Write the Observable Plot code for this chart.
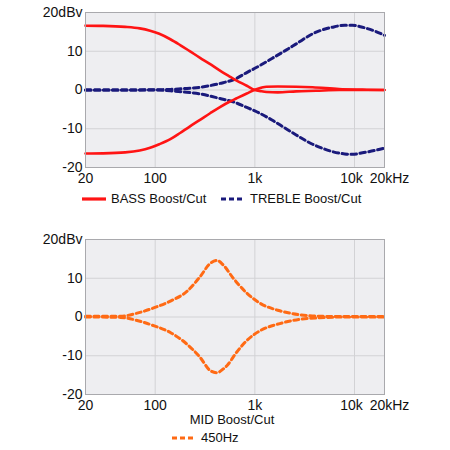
<!DOCTYPE html>
<html><head><meta charset="utf-8">
<script src="https://cdn.jsdelivr.net/npm/d3@7"></script>
<script src="https://cdn.jsdelivr.net/npm/@observablehq/plot@0.6"></script>
<style>
body{margin:0;background:#fff;font-family:"Liberation Sans",Arial,sans-serif;}
#wrap{position:relative;width:450px;height:450px;overflow:hidden;}
.pos{position:absolute;left:0;}
.lg{position:absolute;display:flex;align-items:center;font-size:13px;color:#111;white-space:nowrap;height:15px;line-height:15px;}
.lg svg{margin-right:5px;}
</style></head><body><div id="wrap"></div>
<script>
// Tick values and labels
const xTicks = [20, 100, 1000, 10000, 20000];
const xTickLabels = ["20", "100", "1k", "10k", "20kHz"];
const yTicks = [-20, -10, 0, 10, 20];
const yTickLabels = ["-20", "-10", "0", "10", "20dBv"];
const gridXVals = [100, 1000, 10000];
const gridYVals = [-10, 0, 10];

// BASS boost / cut
const bassBoostFreq = [20, 30, 50, 70, 89, 110, 142, 178, 220, 282, 350, 447, 550, 650, 830, 1000, 1150, 1310, 1700, 2600, 4100, 7000, 20000];
const bassBoostDb   = [16.6, 16.55, 16.3, 15.9, 15.3, 14.5, 13.1, 11.6, 10.1, 8.3, 6.8, 5.0, 3.6, 2.5, 1.1, 0, -0.3, -0.5, -0.6, -0.35, -0.2, 0, 0];
const bassCutFreq = [20, 30, 50, 70, 89, 110, 142, 178, 220, 282, 356, 447, 550, 650, 830, 1000, 1150, 1310, 1700, 2600, 3800, 7000, 12000, 20000];
const bassCutDb   = [-16.4, -16.35, -16.1, -15.6, -14.9, -14.0, -12.7, -11.1, -9.5, -7.7, -6.0, -4.4, -3.1, -2.2, -0.9, 0.05, 0.55, 0.85, 0.9, 0.85, 0.7, 0.25, 0.1, 0];

// TREBLE boost / cut
const trebleBoostFreq = [20, 50, 89, 142, 192, 282, 447, 630, 830, 1000, 1500, 2000, 2600, 3800, 4500, 6000, 8000, 9500, 12000, 16000, 20000];
const trebleBoostDb   = [0, 0, 0.05, 0.15, 0.35, 0.7, 1.7, 2.8, 4.5, 5.6, 8.2, 10.1, 11.9, 14.5, 15.3, 16.2, 16.7, 16.7, 16.2, 15.2, 14.1];
const trebleCutFreq = [20, 50, 89, 142, 192, 282, 447, 630, 830, 1000, 1500, 2000, 2600, 3800, 4500, 6000, 8000, 9500, 12000, 16000, 20000];
const trebleCutDb   = [0, 0, 0, -0.2, -0.5, -1.0, -2.2, -3.2, -4.5, -5.4, -7.8, -9.8, -11.6, -14.0, -14.8, -15.9, -16.5, -16.6, -16.2, -15.6, -15.0];

// MID (450Hz) boost / cut
const midBoostFreq = [20, 45, 66, 98, 142, 208, 282, 356, 415, 483, 608, 828, 1120, 1780, 2800, 4500, 8000, 20000];
const midBoostDb   = [0.2, 0.2, 1.0, 2.4, 4.1, 6.6, 10.4, 13.8, 14.6, 13.4, 10.0, 6.2, 3.6, 1.6, 0.6, 0.2, 0.1, 0.1];
const midCutFreq = [20, 45, 66, 98, 142, 208, 282, 356, 415, 483, 527, 657, 828, 1120, 1780, 2800, 4500, 8000, 20000];
const midCutDb   = [0, -0.1, -0.9, -2.3, -4.0, -7.0, -10.4, -13.8, -14.4, -13.4, -12.5, -9.1, -6.1, -3.6, -1.7, -0.6, -0.2, 0, 0];

const RED = "#ff1414", NAVY = "#1a1a7c", ORANGE = "#ff6a14";
const toRows = (fs, ds) => fs.map((f, i) => ({f, db: ds[i]}));
const xLab = d => xTickLabels[xTicks.indexOf(d)];

function chart(lines) {
  return Plot.plot({
    width: 450, height: 188,
    marginLeft: 85, marginRight: 66, marginTop: 12, marginBottom: 21,
    style: {fontSize: "14px", fontFamily: "'Liberation Sans', Arial, sans-serif", color: "#111", background: "transparent", overflow: "visible"},
    x: {type: "log", domain: [20, 20000]},
    y: {domain: [-20, 20]},
    marks: [
      Plot.frame({fill: "#eeeef1", stroke: null}),
      Plot.gridX(gridXVals, {stroke: "#d2d2d5", strokeOpacity: 1}),
      Plot.gridY(gridYVals, {stroke: "#d2d2d5", strokeOpacity: 1}),
      ...lines.map(l => Plot.line(l.data, {x: "f", y: "db", stroke: l.color, strokeWidth: l.w, strokeDasharray: l.dash, curve: "monotone-x"})),
      Plot.frame({stroke: "#a9a9ad"}),
      Plot.axisX({ticks: xTicks.slice(0, 3), tickFormat: xLab, tickSize: 0, tickPadding: 6, label: null}),
      Plot.axisX({ticks: [xTicks[3]], tickFormat: xLab, tickSize: 0, tickPadding: 6, label: null, dx: -3}),
      Plot.axisX({ticks: [xTicks[4]], tickFormat: xLab, tickSize: 0, tickPadding: 6, label: null, dx: 5}),
      Plot.axisY({ticks: yTicks, tickFormat: d => yTickLabels[yTicks.indexOf(d)], tickSize: 0, tickPadding: 3, label: null})
    ]
  });
}

const wrap = document.getElementById("wrap");
const top1 = chart([
  {data: toRows(trebleBoostFreq, trebleBoostDb), color: NAVY, w: 3, dash: "5.5,3.5"},
  {data: toRows(trebleCutFreq, trebleCutDb), color: NAVY, w: 3, dash: "5.5,3.5"},
  {data: toRows(bassBoostFreq, bassBoostDb), color: RED, w: 2.6, dash: null},
  {data: toRows(bassCutFreq, bassCutDb), color: RED, w: 2.6, dash: null}
]);
top1.classList.add("pos"); top1.style.top = "0px";
wrap.appendChild(top1);

const bot = chart([
  {data: toRows(midBoostFreq, midBoostDb), color: ORANGE, w: 3, dash: "5,3.5"},
  {data: toRows(midCutFreq, midCutDb), color: ORANGE, w: 3, dash: "5,3.5"}
]);
bot.classList.add("pos"); bot.style.top = "227px";
wrap.appendChild(bot);

function sw(color, dash) {
  return `<svg width="24" height="6"><line x1="0" y1="3" x2="24" y2="3" stroke="${color}" stroke-width="3.2" ${dash ? `stroke-dasharray="${dash}"` : ""}/></svg>`;
}
function addLegend(left, top, html) {
  const d = document.createElement("div");
  d.className = "lg"; d.style.left = left + "px"; d.style.top = top + "px";
  d.innerHTML = html; wrap.appendChild(d);
}
addLegend(82, 191, sw(RED, null) + "BASS Boost/Cut");
addLegend(221, 191, sw(NAVY, "5,3") + "TREBLE Boost/Cut");
const cap = document.createElement("div");
cap.className = "lg"; cap.style.left = "0px"; cap.style.width = "464px"; cap.style.justifyContent = "center";
cap.style.top = "412px"; cap.textContent = "MID Boost/Cut"; wrap.appendChild(cap);
addLegend(172, 430, sw(ORANGE, "5,3") + "450Hz");
</script></body></html>
